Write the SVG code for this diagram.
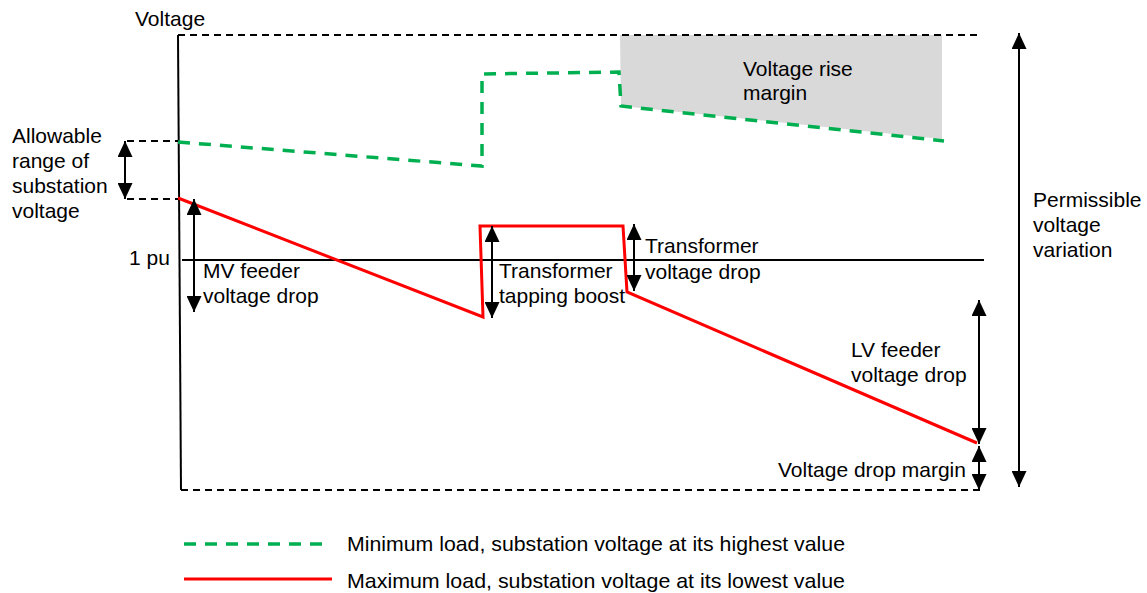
<svg xmlns="http://www.w3.org/2000/svg" width="1147" height="593" viewBox="0 0 1147 593">
<style>
text{font-family:"Liberation Sans",Arial,sans-serif;font-size:21px;fill:#000}
.dash{fill:none;stroke:#000;stroke-width:1.8;stroke-dasharray:7,5}
.axis{fill:none;stroke:#000;stroke-width:2}
.green{fill:none;stroke:#00B050;stroke-width:3.5;stroke-dasharray:12,9}
.red{fill:none;stroke:#FF0000;stroke-width:3;stroke-linejoin:miter}
.arr{fill:none;stroke:#000;stroke-width:2;marker-start:url(#ah);marker-end:url(#ah)}
</style>
<defs>
<marker id="ah" viewBox="0 0 16 15" refX="16" refY="7.5" markerWidth="16" markerHeight="15" orient="auto-start-reverse" markerUnits="userSpaceOnUse">
<path d="M0,0 L16,7.5 L0,15 z" fill="#000"/>
</marker>
</defs>
<rect width="1147" height="593" fill="#fff"/>
<g id="rise-margin">
<polygon points="620,35 942,35 942,139 621,106" fill="#D9D9D9"/>
<text x="743" y="76">Voltage rise</text>
<text x="743" y="100">margin</text>
</g>
<g id="axes">
<line class="dash" x1="178" y1="35" x2="978" y2="35"/>
<line class="dash" x1="181" y1="490" x2="982" y2="490"/>
<line class="axis" x1="178" y1="35" x2="181" y2="490"/>
<line class="axis" x1="182" y1="260" x2="984" y2="260"/>
<text x="135" y="26">Voltage</text>
<text x="129" y="265">1 pu</text>
</g>
<g id="min-load-curve">
<polyline class="green" points="178,142 482,166 482,74 619,72 621,106 944,141"/>
</g>
<g id="max-load-curve">
<polyline class="red" points="178,198 483,317 480,226 623,226 627,292 977,443"/>
</g>
<g id="substation-range">
<line class="dash" x1="127" y1="141" x2="178" y2="141"/>
<line class="dash" x1="127" y1="199" x2="178" y2="199"/>
<text x="12" y="143">Allowable</text>
<text x="12" y="168">range of</text>
<text x="12" y="193">substation</text>
<text x="12" y="218">voltage</text>
</g>
<g id="connectors">
<line class="arr" x1="125" y1="141" x2="125" y2="199"/>
<line class="arr" x1="194" y1="199" x2="194" y2="312"/>
<line class="arr" x1="492" y1="226" x2="492" y2="318"/>
<line class="arr" x1="634" y1="224" x2="634" y2="291"/>
<line class="arr" x1="979" y1="300" x2="979" y2="444"/>
<line class="arr" x1="979" y1="446" x2="979" y2="490"/>
<line class="arr" x1="1019" y1="33" x2="1019" y2="487"/>
</g>
<g id="mv-label">
<text x="203" y="278">MV feeder</text>
<text x="203" y="303">voltage drop</text>
</g>
<g id="tap-label">
<text x="499" y="278">Transformer</text>
<text x="499" y="303">tapping boost</text>
</g>
<g id="tx-drop-label">
<text x="645" y="253">Transformer</text>
<text x="645" y="279">voltage drop</text>
</g>
<g id="lv-label">
<text x="851" y="357">LV feeder</text>
<text x="851" y="382">voltage drop</text>
</g>
<g id="drop-margin-label">
<text x="778" y="477">Voltage drop margin</text>
</g>
<g id="permissible-label">
<text x="1033" y="207">Permissible</text>
<text x="1033" y="232">voltage</text>
<text x="1033" y="257">variation</text>
</g>
<g id="legend">
<line class="green" x1="184" y1="544" x2="331" y2="544" stroke-dasharray="13,9.3"/>
<line class="red" x1="184" y1="579" x2="332" y2="579"/>
<text x="347" y="551" textLength="498" lengthAdjust="spacingAndGlyphs">Minimum load, substation voltage at its highest value</text>
<text x="347" y="588" textLength="498" lengthAdjust="spacingAndGlyphs">Maximum load, substation voltage at its lowest value</text>
</g>
</svg>
